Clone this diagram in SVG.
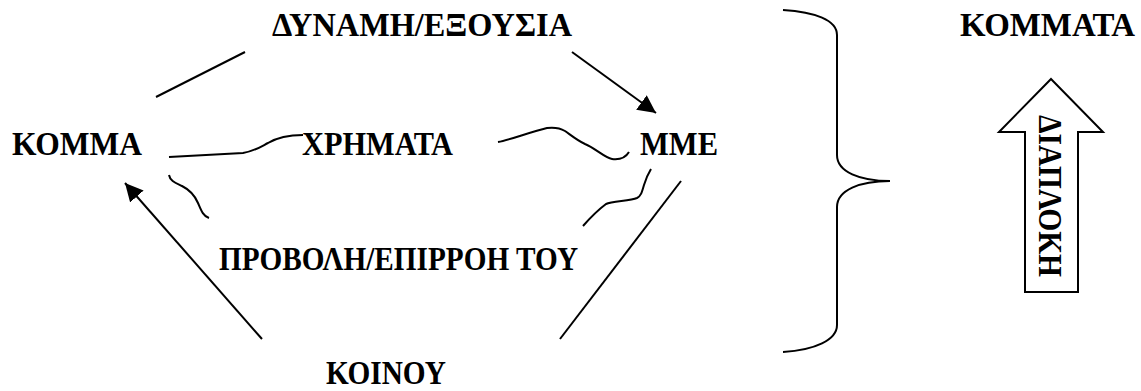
<svg xmlns="http://www.w3.org/2000/svg" width="1141" height="391" viewBox="0 0 1141 391">
<style>
.t{font-family:"Liberation Serif","Times New Roman",serif;font-weight:bold;font-size:33px;fill:#000}
.ln{fill:none;stroke:#000;stroke-width:2;stroke-linecap:butt}
</style>
<defs>
<marker id="ah" markerUnits="userSpaceOnUse" markerWidth="20" markerHeight="18" refX="18" refY="9" orient="auto">
<path d="M0,0 L18,9 L0,18 Z" fill="#000"/>
</marker>
</defs>
<rect width="1141" height="391" fill="#fff"/>
<g id="connectors">
<line class="ln" x1="156" y1="97" x2="245" y2="52"/>
<line class="ln" x1="572" y1="52" x2="656" y2="113" marker-end="url(#ah)"/>
<line class="ln" x1="262" y1="339" x2="125" y2="183" marker-end="url(#ah)"/>
<line class="ln" x1="681" y1="181" x2="560" y2="339"/>
<path class="ln" d="M169,157 L243,153 C255,151 262,146 268,143 C278,137 288,135 303,135"/>
<path class="ln" d="M498,142 C510,140 530,132 547,128 C555,127 560,128 565,131 C572,136 578,141 585,144 C595,148 605,158 612,159 C620,160 626,157 629,152"/>
<path class="ln" d="M169,175 C170,181 176,183 182,186 C190,190 195,196 198,203 C201,210 203,216 209,218"/>
<path class="ln" d="M651,169 C648,174 646,178 644,185 C642,192 641,196 637,198 C630,201 612,201 606,204 C598,210 590,218 583,226"/>
<path class="ln" d="M783,10 C815,12 837,20 837,35 L837,155 C837,172 860,181 890,181 C860,181 837,190 837,207 L837,325 C837,340 815,350 783,352"/>
</g>
<g id="node-dynami"><text class="t" x="272" y="36" textLength="300" lengthAdjust="spacingAndGlyphs">ΔΥΝΑΜΗ/ΕΞΟΥΣΙΑ</text></g>
<g id="node-komma"><text class="t" x="12" y="155" textLength="130" lengthAdjust="spacingAndGlyphs">ΚΟΜΜΑ</text></g>
<g id="node-xrimata"><text class="t" x="302" y="155" textLength="151" lengthAdjust="spacingAndGlyphs">ΧΡΗΜΑΤΑ</text></g>
<g id="node-mme"><text class="t" x="640" y="155" textLength="78" lengthAdjust="spacingAndGlyphs">ΜΜΕ</text></g>
<g id="node-provoli"><text class="t" x="219" y="270" textLength="359" lengthAdjust="spacingAndGlyphs">ΠΡΟΒΟΛΗ/ΕΠΙΡΡΟΗ ΤΟΥ</text></g>
<g id="node-koinou"><text class="t" x="326" y="384" textLength="120" lengthAdjust="spacingAndGlyphs">ΚΟΙΝΟΥ</text></g>
<g id="node-kommata"><text class="t" x="960" y="36" textLength="175" lengthAdjust="spacingAndGlyphs">ΚΟΜΜΑΤΑ</text></g>
<g id="node-diaploki">
<polygon points="1051,79 1103,132 1078,132 1078,292 1025,292 1025,132 999,132" fill="#fff" stroke="#000" stroke-width="2" stroke-linejoin="miter"/>
<text class="t" transform="translate(1039,115) rotate(90)" textLength="162" lengthAdjust="spacingAndGlyphs">ΔΙΑΠΛΟΚΗ</text>
</g>
</svg>
